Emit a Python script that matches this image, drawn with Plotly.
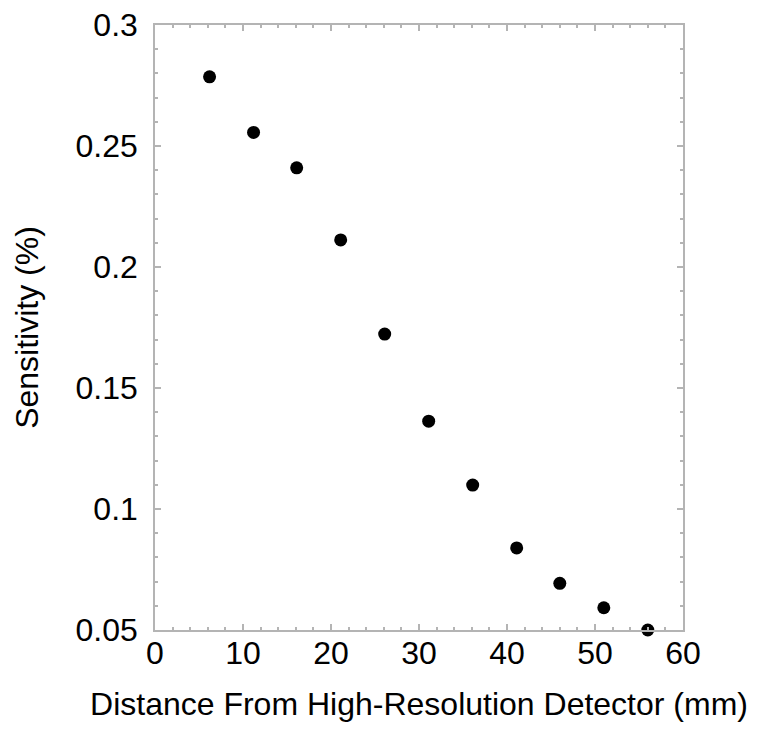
import plotly.graph_objects as go

# distance from high-resolution detector (mm) vs sensitivity (%)
distance = [6.2, 11.2, 16.1, 21.1, 26.1, 31.1, 36.1, 41.1, 46.0, 51.0, 56.0]
sensitivity = [0.2786, 0.2556, 0.2410, 0.2112, 0.1723, 0.1363, 0.1099, 0.0839, 0.0693, 0.0592, 0.0500]

fig = go.Figure()
fig.add_trace(go.Scatter(x=distance, y=sensitivity, mode='markers',
                         marker=dict(color='black', size=13), cliponaxis=False))

grey = '#b4b4b4'
axis_common = dict(showgrid=False, zeroline=False, showline=True, linecolor=grey, linewidth=1.5,
                   mirror='ticks', ticks='inside', ticklen=6, tickcolor=grey, tickwidth=1.5,
                   tickfont=dict(size=32, color='black'), ticklabeloverflow='allow',
                   automargin=False, title_font=dict(size=32, color='black'))

fig.update_xaxes(range=[0, 60], dtick=10, tick0=0,
                 minor=dict(dtick=2, ticks='inside', ticklen=3, tickcolor=grey, tickwidth=1.5),
                 title_text='Distance From High-Resolution Detector (mm)', title_standoff=22,
                 ticklabelstandoff=-6, **axis_common)
# tiny bit of headroom so the 0.3 label is not lost to float rounding
fig.update_yaxes(range=[0.05, 0.3000001], dtick=0.05, tick0=0.05,
                 minor=dict(dtick=0.01, ticks='inside', ticklen=3, tickcolor=grey, tickwidth=1.5),
                 title_text='Sensitivity (%)', title_standoff=27, tickformat='~g',
                 ticklabelstandoff=9, **axis_common)

# page has an 8px body margin, so the figure is shrunk by that much
fig.update_layout(width=755, height=722, plot_bgcolor='white', paper_bgcolor='white',
                  font=dict(family='Liberation Sans, Arial, sans-serif', color='black'),
                  margin=dict(l=147, r=80, t=17, b=100), showlegend=False)

fig.write_html("out.html")
